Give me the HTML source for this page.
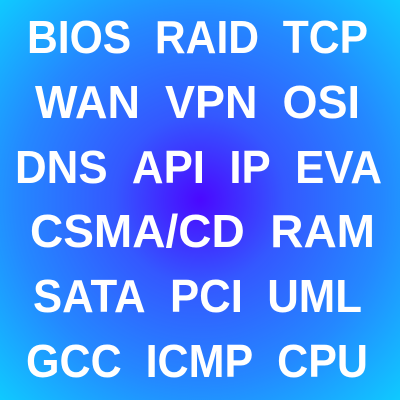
<!DOCTYPE html>
<html><head><style>
html,body{margin:0;padding:0;width:400px;height:400px;overflow:hidden}
</style></head><body>
<svg width="400" height="400" xmlns="http://www.w3.org/2000/svg">
<defs>
<radialGradient id="g" cx="200" cy="200" r="283" gradientUnits="userSpaceOnUse">
<stop offset="0" stop-color="#4a08ff"/>
<stop offset="0.3" stop-color="#3458ff"/>
<stop offset="0.65" stop-color="#2488ff"/>
<stop offset="1" stop-color="#0fcaff"/>
</radialGradient>
</defs>
<rect width="400" height="400" fill="url(#g)"/>
<g fill="#fff" font-family="'Liberation Sans',sans-serif" font-weight="bold" font-size="46">
<text x="27" y="53" textLength="341" lengthAdjust="spacingAndGlyphs">BIOS&#160;&#160;RAID&#160;&#160;TCP</text>
<text x="35" y="118" textLength="325" lengthAdjust="spacingAndGlyphs">WAN&#160;&#160;VPN&#160;&#160;OSI</text>
<text x="15" y="183" textLength="367" lengthAdjust="spacingAndGlyphs">DNS&#160;&#160;API&#160;&#160;IP&#160;&#160;EVA</text>
<text x="30" y="247" textLength="345" lengthAdjust="spacingAndGlyphs">CSMA/CD&#160;&#160;RAM</text>
<text x="33" y="312" textLength="329" lengthAdjust="spacingAndGlyphs">SATA&#160;&#160;PCI&#160;&#160;UML</text>
<text x="26" y="377" textLength="342" lengthAdjust="spacingAndGlyphs">GCC&#160;&#160;ICMP&#160;&#160;CPU</text>
</g>
</svg>
</body></html>
